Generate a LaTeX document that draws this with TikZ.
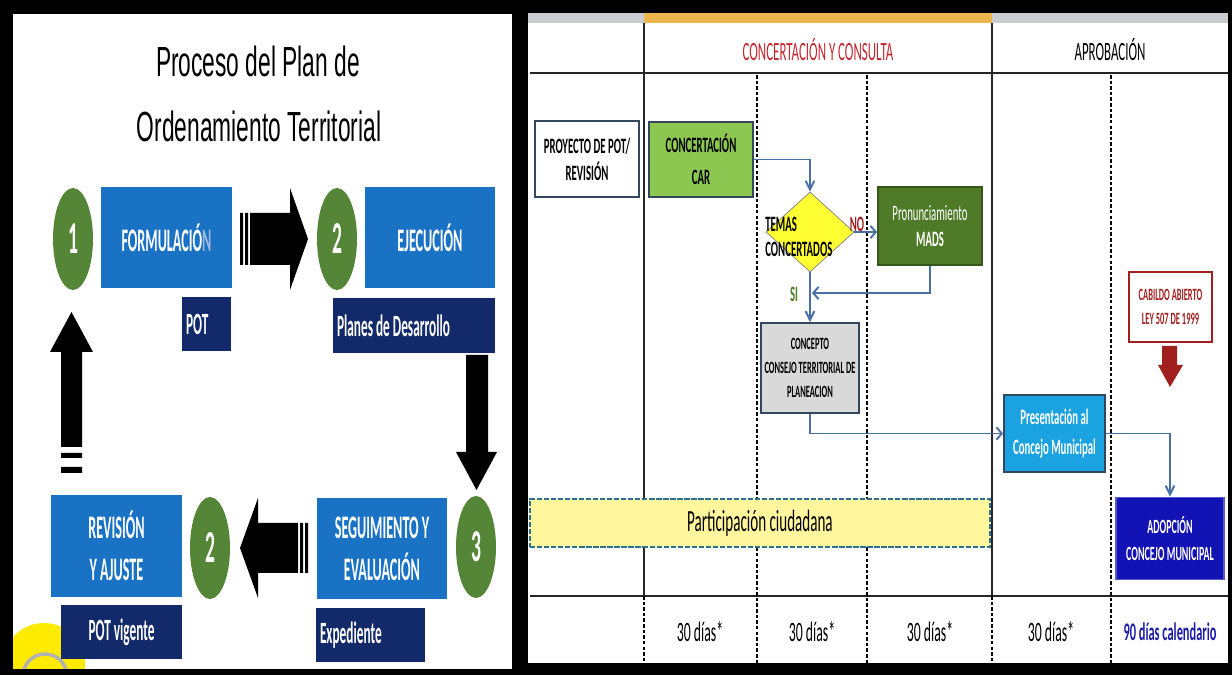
\documentclass[tikz,border=0pt]{standalone}
\usepackage{fontspec}
\setmainfont{Carlito}[FakeStretch=0.49]
\newfontfamily\leftfont{Carlito}[FakeStretch=0.43]
\newfontfamily\titlefont{Liberation Sans}[FakeStretch=0.54]
\usepackage{tikz}
\usetikzlibrary{positioning}
\usetikzlibrary{calc,shapes.geometric,arrows.meta}

\definecolor{stageblue}{HTML}{1A72C4}
\definecolor{navybox}{HTML}{12296A}
\definecolor{numgreen}{HTML}{558537}
\definecolor{nlight}{HTML}{9DB8DC}
\definecolor{blobyellow}{HTML}{FFEB00}
\definecolor{bargrey}{HTML}{C9CDD2}
\definecolor{barorange}{HTML}{EBB64E}
\definecolor{hdrred}{HTML}{C4262E}
\definecolor{slate}{HTML}{34475E}
\definecolor{linkblue}{HTML}{4A6FA5}
\definecolor{cargreen}{HTML}{8CC751}
\definecolor{madsgreen}{HTML}{4F7B28}
\definecolor{dyellow}{HTML}{FFFF33}
\definecolor{cgrey}{HTML}{D9D9D9}
\definecolor{presblue}{HTML}{1AA3E0}
\definecolor{adopblue}{HTML}{1212B5}
\definecolor{cabred}{HTML}{A02020}
\definecolor{partyellow}{HTML}{FFF69D}
\definecolor{partline}{HTML}{2F6F8F}
\definecolor{daysblue}{HTML}{1C1CA8}

\tikzset{
  stage/.style={fill=stageblue,text=white,align=center,inner sep=0pt,
    font=\leftfont\fontsize{18.7}{24}\selectfont\bfseries},
  subbox/.style={fill=navybox,text=white,align=flush left,inner xsep=0.08cm,inner ysep=0pt,
    font=\leftfont\fontsize{17.6}{18}\selectfont\bfseries},
  num/.style={ellipse,fill=numgreen,text=white,minimum width=0.8cm,minimum height=2.04cm,
    inner sep=0pt,font=\leftfont\fontsize{26}{26}\selectfont\bfseries},
  flowbox/.style={draw=slate,line width=1.1pt,align=center,inner sep=0pt,
    font=\fontsize{12.5}{15.5}\selectfont\bfseries},
  link/.style={draw=linkblue,line width=1.1pt},
  harr/.style={-{Straight Barb[length=3pt,width=7pt]}},
  varr/.style={-{Straight Barb[length=5pt,width=5pt]}},
  tableline/.style={line width=0.9pt,black!85},
  dotline/.style={line width=0.9pt,dash pattern=on 2pt off 1.2pt},
  dayslbl/.style={font=\fontsize{16}{18}\selectfont},
}

\begin{document}
\begin{tikzpicture}[x=0.02cm,y=-0.02cm]
\useasboundingbox (0,0) rectangle (1232,675);
\fill[black] (0,0) rectangle (1232,675);

% left panel
\fill[white] (13,14) rectangle (512,669);
\begin{scope}
\clip (13,14) rectangle (512,669);
\fill[blobyellow] (44,664) circle[radius=0.82cm];
\draw[gray!60,line width=2pt] (45,676) circle[radius=0.44cm];
\end{scope}

\node[anchor=base,font=\titlefont\fontsize{24}{26}\selectfont] (title1) at (258,77) {Proceso del Plan de};
\node[anchor=base,font=\titlefont\fontsize{24}{26}\selectfont] (title2) at (259,142) {Ordenamiento Territorial};

\node[num] (n1) at (73,239) {1};
\node[stage,minimum width=2.62cm,minimum height=2.02cm] (form) at (166.5,237.5) {FORMULACIÓ{\color{nlight}N}};
\node[subbox,text width=0.82cm,minimum height=1.08cm] (pot) at (206.5,324) {POT};
\node[num] (n2) at (337,239) {2};
\node[stage,minimum width=2.6cm,minimum height=2.02cm] (ejec) at (430,237.5) {EJECUCIÓN};
\node[subbox,text width=3.08cm,minimum height=1.1cm] (planes) at (414,325.5) {Planes de Desarrollo};
\node[num] (n3) at (476,547) {3};
\node[stage,minimum width=2.6cm,minimum height=2.02cm] (seg) at (382,548.5) {SEGUIMIENTO Y\\EVALUACIÓN};
\node[subbox,text width=2.02cm,minimum height=1.08cm] (exped) at (370.5,635) {Expediente};
\node[num] (n2b) at (210,548) {2};
\node[stage,minimum width=2.62cm,minimum height=2.04cm] (rev) at (116.5,546) {REVISIÓN\\Y AJUSTE};
\node[subbox,align=flush center,text width=2.26cm,minimum height=1.08cm] (potv) at (121.5,632) {POT vigente};

% block arrows
\fill (240,213) rectangle (243,265) (245,213) rectangle (248,265)
  (250,213)--(290,213)--(290,188)--(308,239)--(290,290)--(290,265)--(250,265)--cycle;
\fill (466,355)--(488,355)--(488,452)--(497,452)--(476.5,490)--(456,452)--(466,452)--cycle;
\fill (305,523) rectangle (308,573) (300,523) rectangle (303,573)
  (298,523)--(258,523)--(258,498)--(240,548)--(258,598)--(258,573)--(298,573)--cycle;
\fill (71.5,312)--(93,352)--(82,352)--(82,447)--(61,447)--(61,352)--(50,352)--cycle
  (61,453) rectangle (82,458) (61,467) rectangle (82,473);

% right panel
\fill[white] (528,13) rectangle (1228,663);
\fill[bargrey] (528,13) rectangle (1228,23);
\fill[barorange] (644,13) rectangle (992,23);
\draw[tableline] (530,73)--(1228,73) (530,596)--(1228,596);
\draw[tableline] (644,23)--(644,596) (992,23)--(992,596);
\draw[dotline] (644,596)--(644,663) (992,596)--(992,663);
\foreach \x in {757,867,1111}
  \draw[dotline] (\x,75)--(\x,663);

\node[text=hdrred,font=\fontsize{15}{17}\selectfont] (hconc) at (818,50) {CONCERTACIÓN Y CONSULTA};
\node[font=\fontsize{15}{17}\selectfont] (haprob) at (1110,50) {APROBACIÓN};

\node[flowbox,fill=white,minimum width=2.08cm,minimum height=1.52cm] (proy) at (587,159) {PROYECTO DE POT/\\REVISIÓN};
\node[flowbox,fill=cargreen,minimum width=2.08cm,minimum height=1.5cm,font=\fontsize{12.5}{18}\selectfont\bfseries] (car) at (701,159.5) {CONCERTACIÓN\\CAR};
\node[diamond,draw=gray,fill=dyellow,minimum width=1.76cm,minimum height=1.6cm,inner sep=0pt] (dia) at (810,232) {};
\node[anchor=west,align=left,inner sep=0pt,font=\fontsize{12.5}{14.5}\selectfont\bfseries] (temas) at (765,237) {TEMAS\\CONCERTADOS};
\node[flowbox,draw=madsgreen!70!black,fill=madsgreen,text=white,minimum width=2.08cm,minimum height=1.56cm,font=\fontsize{12.5}{15}\selectfont] (mads) at (930,226) {Pronunciamiento\\\textbf{MADS}};
\node[flowbox,fill=cgrey,minimum width=1.96cm,minimum height=1.8cm,font=\fontsize{9.8}{13.6}\selectfont\bfseries] (cpto) at (810,368) {CONCEPTO\\CONSEJO TERRITORIAL DE\\PLANEACION};
\node[flowbox,fill=presblue,text=white,minimum width=2.02cm,minimum height=1.54cm,font=\fontsize{12.5}{17}\selectfont\bfseries] (pres) at (1054.5,433.5) {Presentación al\\Concejo Municipal};
\node[flowbox,draw=cabred,line width=0.6pt,fill=white,text=cabred,minimum width=1.66cm,minimum height=1.4cm,font=\fontsize{9.8}{13.5}\selectfont\bfseries] (cab) at (1170.5,307) {CABILDO ABIERTO\\LEY 507 DE 1999};
\node[flowbox,draw=adopblue!70,fill=adopblue,text=white,minimum width=2.16cm,minimum height=1.64cm,font=\fontsize{11.5}{15}\selectfont\bfseries] (adop) at (1170,538.5) {ADOPCIÓN\\CONCEJO MUNICIPAL};
\node[draw=partline,line width=1.6pt,dash pattern=on 3pt off 1pt,fill=partyellow,minimum width=9.2cm,minimum height=0.96cm,inner sep=0pt,font=\fontsize{17.5}{19}\selectfont] (part) at (760,523) {Participación ciudadana};

\fill[cabred] (1162,346)--(1177,346)--(1177,365)--(1183,365)--(1170,387)--(1158,365)--(1162,365)--cycle;

\coordinate (si) at (812,293);
\draw[link,varr] (car.east) -| (dia.north);
\draw[link,harr] (dia.east) -- (dia.east -| mads.west);
\draw[link,harr] (mads.south) |- (si);
\draw[link,varr] (dia.south) -- (cpto.north);
\draw[link,harr] (cpto.south) |- (pres.west);
\draw[link,varr] (pres.east) -| (adop.north);
\node[text=cabred,font=\fontsize{12.5}{14}\selectfont\bfseries] (lblno) at (857,224) {NO};
\node[text=madsgreen,font=\fontsize{12.5}{14}\selectfont\bfseries] (lblsi) at (794,294) {SI};

\foreach \x [count=\i] in {700,812,930,1051}
  \node[dayslbl] (d\i) at (\x,632) {30 días*};
\node[dayslbl,text=daysblue,font=\fontsize{14.4}{16}\selectfont\bfseries] (d5) at (1170,632) {90 días calendario};
\end{tikzpicture}
\end{document}
